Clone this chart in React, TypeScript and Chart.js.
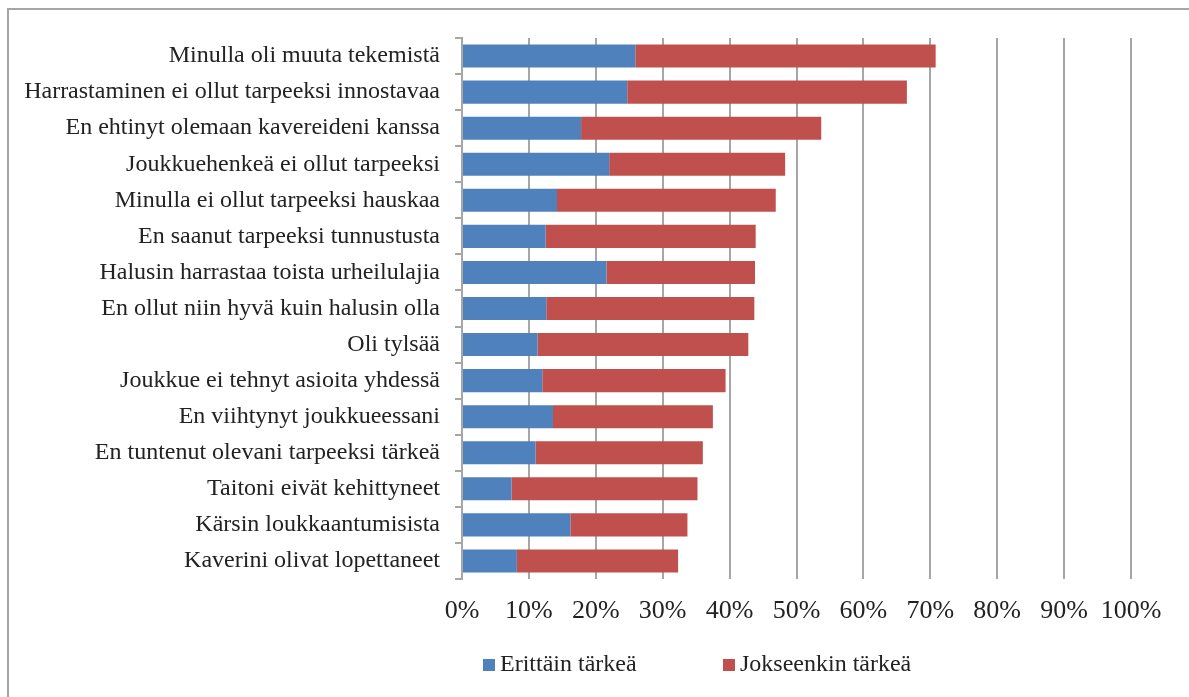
import React, { useEffect, useRef } from "react";
import { Chart, registerables } from "chart.js";
Chart.register(...registerables);

const categories = [
  "Minulla oli muuta tekemistä",
  "Harrastaminen ei ollut tarpeeksi innostavaa",
  "En ehtinyt olemaan kavereideni kanssa",
  "Joukkuehenkeä ei ollut tarpeeksi",
  "Minulla ei ollut tarpeeksi hauskaa",
  "En saanut tarpeeksi tunnustusta",
  "Halusin harrastaa toista urheilulajia",
  "En ollut niin hyvä kuin halusin olla",
  "Oli tylsää",
  "Joukkue ei tehnyt asioita yhdessä",
  "En viihtynyt joukkueessani",
  "En tuntenut olevani tarpeeksi tärkeä",
  "Taitoni eivät kehittyneet",
  "Kärsin loukkaantumisista",
  "Kaverini olivat lopettaneet",
];

const erittainTarkea = [25.9, 24.7, 17.8, 22.0, 14.2, 12.5, 21.6, 12.6, 11.3, 12.0, 13.6, 11.0, 7.4, 16.2, 8.2];
const jokseenkinTarkea = [44.9, 41.8, 35.9, 26.3, 32.7, 31.4, 22.2, 31.1, 31.5, 27.4, 23.9, 25.0, 27.8, 17.5, 24.1];

const seriesNames = ["Erittäin tärkeä", "Jokseenkin tärkeä"];
const seriesColors = ["#4F81BD", "#C0504D"];

const FONT = "'Liberation Serif', 'Times New Roman', serif";

export default function App() {
  const ref = useRef<HTMLCanvasElement | null>(null);

  useEffect(() => {
    if (!ref.current) return;
    const chart = new Chart(ref.current, {
      type: "bar",
      data: {
        labels: categories,
        datasets: [
          {
            label: seriesNames[0],
            data: erittainTarkea,
            backgroundColor: seriesColors[0],
            borderWidth: 0,
            barPercentage: 0.64,
            categoryPercentage: 1,
          },
          {
            label: seriesNames[1],
            data: jokseenkinTarkea,
            backgroundColor: seriesColors[1],
            borderWidth: 0,
            barPercentage: 0.64,
            categoryPercentage: 1,
          },
        ],
      },
      options: {
        indexAxis: "y",
        responsive: false,
        animation: false,
        devicePixelRatio: 1,
        layout: { padding: { top: 38, right: 58, left: 0, bottom: 0 } },
        plugins: {
          legend: { display: false },
          tooltip: { enabled: false },
        },
        scales: {
          x: {
            stacked: true,
            min: 0,
            max: 100,
            ticks: {
              stepSize: 10,
              callback: (v: any) => v + "%",
              font: { family: FONT, size: 26 },
              color: "#222",
              padding: 17,
              maxRotation: 0,
            },
            grid: { color: "#a6a6a6", lineWidth: 2, drawTicks: false },
            border: { display: false },
            afterFit: (scale: any) => {
              scale.height = 118;
            },
          },
          y: {
            stacked: true,
            ticks: {
              font: { family: FONT, size: 24 },
              color: "#222",
              padding: 15,
              autoSkip: false,
            },
            grid: {
              drawOnChartArea: false,
              offset: true,
              tickLength: 7,
              color: "#a6a6a6",
              lineWidth: 2,
            },
            border: { color: "#a6a6a6", width: 2 },
            afterFit: (scale: any) => {
              scale.width = 462;
            },
          },
        },
      },
    });
    return () => chart.destroy();
  }, []);

  const legendText: React.CSSProperties = {
    position: "absolute",
    top: 649,
    fontFamily: FONT,
    fontSize: 24,
    color: "#222",
    lineHeight: "28px",
    whiteSpace: "nowrap",
  };
  const box = (left: number, color: string): React.CSSProperties => ({
    position: "absolute",
    left,
    top: 659,
    width: 12,
    height: 12,
    background: color,
  });

  return (
    <div>
      <div
        style={{
          position: "fixed",
          left: 7,
          top: 8,
          width: 1400,
          height: 900,
          border: "2px solid #a6a6a6",
          boxSizing: "border-box",
        }}
      />
      <div style={{ position: "fixed", left: 0, top: 0, width: 1189, height: 697 }}>
        <canvas ref={ref} width={1189} height={697} style={{ position: "absolute", left: 0, top: 0 }} />
        <div style={box(483, seriesColors[0])} />
        <div style={{ ...legendText, left: 500 }}>{seriesNames[0]}</div>
        <div style={box(723, seriesColors[1])} />
        <div style={{ ...legendText, left: 740 }}>{seriesNames[1]}</div>
      </div>
    </div>
  );
}
